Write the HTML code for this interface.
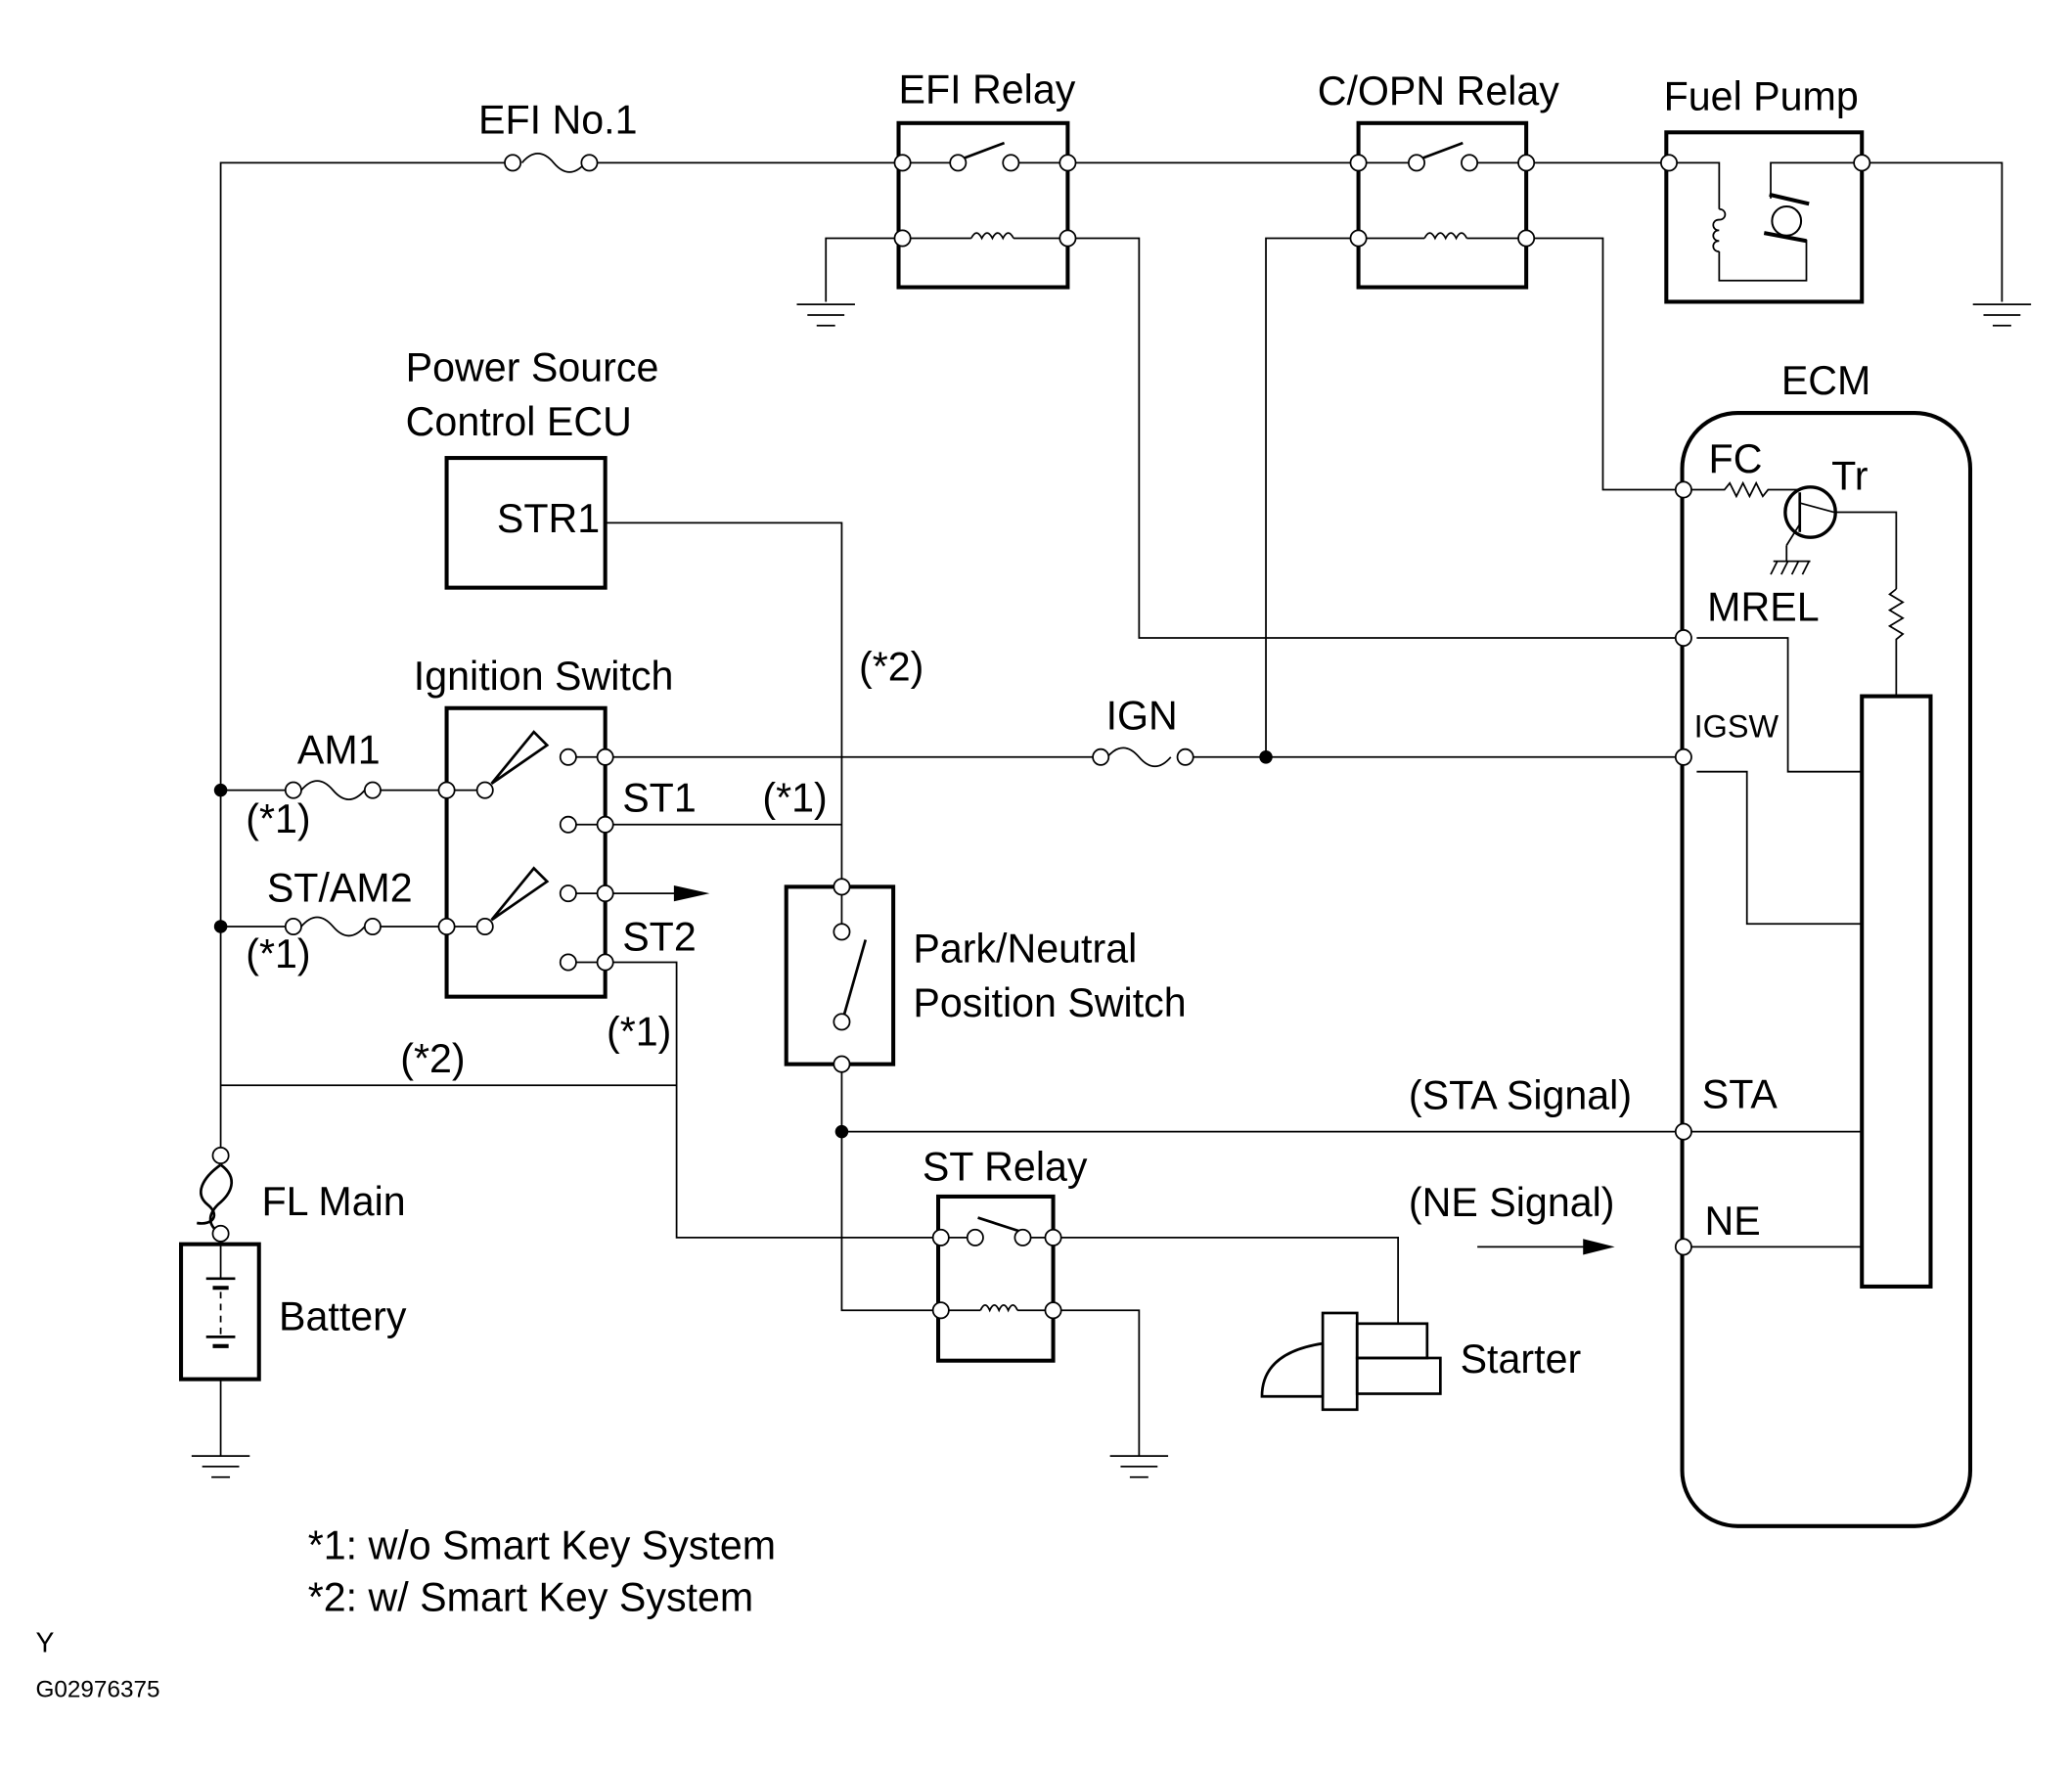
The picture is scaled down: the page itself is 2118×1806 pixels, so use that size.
<!DOCTYPE html>
<html><head><meta charset="utf-8"><style>
html,body{margin:0;padding:0;background:#fff;}
svg{display:block}
text{font-family:"Liberation Sans",sans-serif;fill:#000}
</style></head><body>
<svg width="2118" height="1806" viewBox="0 0 1568 1335" preserveAspectRatio="none" xmlns="http://www.w3.org/2000/svg">
<defs>
<g id="gnd"><line x1="-22" y1="0" x2="22" y2="0"/><line x1="-14" y1="8" x2="14" y2="8"/><line x1="-7" y1="16" x2="7" y2="16"/></g>
</defs>
<g fill="none" stroke="#000" stroke-width="1.3">
<polyline points="167,873 167,123 388,123"/>
<path d="M395,123 q12,-14 24,0 q12,14 24,0"/>
<line x1="446" y1="123" x2="683" y2="123"/>
<line x1="808" y1="123" x2="1028" y2="123"/>
<line x1="1155" y1="123" x2="1263" y2="123"/>
<polyline points="1409,123 1515,123 1515,228"/>
<use href="#gnd" x="1515" y="230"/>
<rect x="680" y="93" width="128" height="124" stroke-width="3"/>
<line x1="683" y1="123" x2="725" y2="123"/><line x1="765" y1="123" x2="808" y2="123"/>
<line x1="728" y1="120" x2="760" y2="108" stroke-width="2"/>
<line x1="683" y1="180" x2="735" y2="180"/><line x1="767" y1="180" x2="808" y2="180"/>
<path d="M735,180 q4,-8 8,0 q4,-8 8,0 q4,-8 8,0 q4,-8 8,0"/>
<polyline points="683,180 625,180 625,228"/>
<use href="#gnd" x="625" y="230"/>
<polyline points="808,180 862,180 862,482 1274,482"/>
<rect x="1028" y="93" width="127" height="124" stroke-width="3"/>
<line x1="1028" y1="123" x2="1072" y2="123"/><line x1="1112" y1="123" x2="1155" y2="123"/>
<line x1="1075" y1="120" x2="1107" y2="108" stroke-width="2"/>
<line x1="1028" y1="180" x2="1078" y2="180"/><line x1="1110" y1="180" x2="1155" y2="180"/>
<path d="M1078,180 q4,-8 8,0 q4,-8 8,0 q4,-8 8,0 q4,-8 8,0"/>
<polyline points="1028,180 958,180 958,572"/>
<polyline points="1155,180 1213,180 1213,370 1274,370"/>
<rect x="1261" y="100" width="148" height="128" stroke-width="3"/>
<polyline points="1263,123 1301,123 1301,158"/>
<polyline points="1301,190 1301,212 1367,212 1367,181"/>
<polyline points="1340,150 1340,123 1409,123"/>
<path d="M1301,158 c6,0 6,8 0,8 c-6,0 -6,8 0,8 c-6,0 -6,8 0,8 c-6,0 -6,8 0,8"/>
<circle cx="1352" cy="167" r="11" stroke-width="1.5"/>
<line x1="1339" y1="147" x2="1369" y2="154" stroke-width="3"/>
<line x1="1335" y1="176" x2="1367" y2="182" stroke-width="3"/>
<rect x="1273" y="312" width="218" height="841" rx="42" stroke-width="3"/>
<rect x="1409" y="526" width="52" height="446" stroke-width="3"/>
<path d="M1274,370 L1305,370 l4,-5 l5,10 l5,-10 l5,10 l5,-10 l5,10 l4,-5 L1360,370"/>
<circle cx="1370" cy="387" r="19" stroke-width="2.5"/>
<line x1="1362" y1="372" x2="1362" y2="402" stroke-width="2"/>
<line x1="1362" y1="380" x2="1388" y2="387"/>
<line x1="1362" y1="396" x2="1352" y2="412"/>
<line x1="1352" y1="412" x2="1352" y2="424"/>
<line x1="1342" y1="424" x2="1370" y2="424"/><line x1="1345" y1="424" x2="1340" y2="434"/><line x1="1353" y1="424" x2="1348" y2="434"/><line x1="1361" y1="424" x2="1356" y2="434"/><line x1="1369" y1="424" x2="1364" y2="434"/>
<polyline points="1388,387 1435,387 1435,445"/>
<path d="M1435,445 l-5,4 l10,6 l-10,6 l10,6 l-10,6 l10,6 l-5,4 L1435,526"/>
<polyline points="1284,482 1353,482 1353,583 1409,583"/>
<polyline points="1284,583 1322,583 1322,698 1409,698"/>
<line x1="458" y1="572" x2="833" y2="572"/>
<path d="M838,572 q12,-14 24,0 q12,14 24,0"/>
<line x1="897" y1="572" x2="1274" y2="572"/>
<line x1="637" y1="855" x2="1409" y2="855"/>
<line x1="1118" y1="942" x2="1200" y2="942"/>
<line x1="1274" y1="942" x2="1409" y2="942"/>
<rect x="338" y="535" width="120" height="218" stroke-width="3"/>
<line x1="167" y1="597" x2="222" y2="597"/>
<path d="M228,597 q12,-14 24,0 q12,14 24,0"/>
<line x1="282" y1="597" x2="338" y2="597"/>
<line x1="167" y1="700" x2="222" y2="700"/>
<path d="M228,700 q12,-14 24,0 q12,14 24,0"/>
<line x1="282" y1="700" x2="338" y2="700"/>
<line x1="338" y1="597" x2="361" y2="597"/><line x1="338" y1="700" x2="361" y2="700"/>
<polygon points="372,592 404,553 414,563" stroke-width="2"/>
<polygon points="372,695 404,656 414,666" stroke-width="2"/>
<line x1="430" y1="572" x2="458" y2="572"/><line x1="430" y1="623" x2="458" y2="623"/>
<line x1="430" y1="675" x2="458" y2="675"/><line x1="430" y1="727" x2="458" y2="727"/>
<line x1="458" y1="623" x2="637" y2="623"/>
<line x1="458" y1="675" x2="515" y2="675"/>
<polyline points="458,727 512,727 512,935 712,935"/>
<line x1="167" y1="820" x2="512" y2="820"/>
<rect x="338" y="346" width="120" height="98" stroke-width="3"/>
<polyline points="458,395 637,395 637,670"/>
<rect x="595" y="670" width="81" height="134" stroke-width="3"/>
<line x1="637" y1="704" x2="637" y2="670"/>
<line x1="639" y1="766" x2="655" y2="710" stroke-width="2"/>
<polyline points="637,804 637,990 712,990"/>
<rect x="710" y="904" width="87" height="124" stroke-width="3"/>
<line x1="712" y1="935" x2="738" y2="935"/><line x1="774" y1="935" x2="797" y2="935"/>
<line x1="740" y1="920" x2="771" y2="930" stroke-width="2"/>
<line x1="712" y1="990" x2="742" y2="990"/><line x1="770" y1="990" x2="797" y2="990"/>
<path d="M742,990 q3.5,-8 7,0 q3.5,-8 7,0 q3.5,-8 7,0 q3.5,-8 7,0"/>
<polyline points="797,935 1058,935 1058,1000"/>
<polyline points="797,990 862,990 862,1100"/>
<use href="#gnd" x="862" y="1100"/>
<path d="M1001,1015 L1001,1055 L955,1055 Q955,1022 1001,1015" stroke-width="2"/>
<rect x="1001" y="992" width="26" height="73" stroke-width="2"/>
<rect x="1027" y="1000" width="53" height="26" stroke-width="2"/>
<rect x="1027" y="1026" width="63" height="27" stroke-width="2"/>
<path d="M167,880 c-14,10 -20,22 -10,30 c10,8 4,16 -8,14" stroke-width="2"/>
<path d="M167,880 c14,10 8,22 -2,30 c-8,8 -8,16 2,22" stroke-width="2"/>
<rect x="137" y="940" width="59" height="102" stroke-width="3"/>
<line x1="167" y1="932" x2="167" y2="966"/>
<line x1="156" y1="966" x2="178" y2="966" stroke-width="2"/><line x1="161" y1="973" x2="173" y2="973" stroke-width="3"/>
<line x1="167" y1="976" x2="167" y2="1008" stroke-dasharray="5,4"/>
<line x1="156" y1="1010" x2="178" y2="1010" stroke-width="2"/><line x1="161" y1="1017" x2="173" y2="1017" stroke-width="3"/>
<line x1="167" y1="1042" x2="167" y2="1100"/>
<use href="#gnd" x="167" y="1100"/>
</g>
<polygon points="510,669 537,675 510,681" fill="#000"/>
<polygon points="1198,936 1222,942 1198,948" fill="#000"/>
<g fill="#000"><circle cx="167" cy="597" r="5"/><circle cx="167" cy="700" r="5"/><circle cx="958" cy="572" r="5"/><circle cx="637" cy="855" r="5"/></g>
<g fill="#fff" stroke="#000" stroke-width="1.3">
<circle cx="388" cy="123" r="6"/><circle cx="446" cy="123" r="6"/>
<circle cx="683" cy="123" r="6"/><circle cx="808" cy="123" r="6"/><circle cx="725" cy="123" r="6"/><circle cx="765" cy="123" r="6"/>
<circle cx="683" cy="180" r="6"/><circle cx="808" cy="180" r="6"/>
<circle cx="1028" cy="123" r="6"/><circle cx="1155" cy="123" r="6"/><circle cx="1072" cy="123" r="6"/><circle cx="1112" cy="123" r="6"/>
<circle cx="1028" cy="180" r="6"/><circle cx="1155" cy="180" r="6"/>
<circle cx="1263" cy="123" r="6"/><circle cx="1409" cy="123" r="6"/>
<circle cx="1274" cy="370" r="6"/><circle cx="1274" cy="482" r="6"/><circle cx="1274" cy="572" r="6"/><circle cx="1274" cy="855" r="6"/><circle cx="1274" cy="942" r="6"/>
<circle cx="833" cy="572" r="6"/><circle cx="897" cy="572" r="6"/>
<circle cx="222" cy="597" r="6"/><circle cx="282" cy="597" r="6"/><circle cx="222" cy="700" r="6"/><circle cx="282" cy="700" r="6"/>
<circle cx="338" cy="597" r="6"/><circle cx="338" cy="700" r="6"/><circle cx="367" cy="597" r="6"/><circle cx="367" cy="700" r="6"/>
<circle cx="430" cy="572" r="6"/><circle cx="458" cy="572" r="6"/><circle cx="430" cy="623" r="6"/><circle cx="458" cy="623" r="6"/>
<circle cx="430" cy="675" r="6"/><circle cx="458" cy="675" r="6"/><circle cx="430" cy="727" r="6"/><circle cx="458" cy="727" r="6"/>
<circle cx="637" cy="670" r="6"/><circle cx="637" cy="704" r="6"/><circle cx="637" cy="772" r="6"/><circle cx="637" cy="804" r="6"/>
<circle cx="712" cy="935" r="6"/><circle cx="797" cy="935" r="6"/><circle cx="738" cy="935" r="6"/><circle cx="774" cy="935" r="6"/>
<circle cx="712" cy="990" r="6"/><circle cx="797" cy="990" r="6"/>
<circle cx="167" cy="873" r="6"/><circle cx="167" cy="932" r="6"/>
</g>
<g font-size="30.5">
<text x="362" y="101">EFI No.1</text>
<text x="680" y="78">EFI Relay</text>
<text x="997" y="79">C/OPN Relay</text>
<text x="1259" y="83">Fuel Pump</text>
<text x="307" y="288">Power Source</text>
<text x="307" y="329">Control ECU</text>
<text x="376" y="402">STR1</text>
<text x="1348" y="298">ECM</text>
<text x="1293" y="357">FC</text>
<text x="1386" y="370">Tr</text>
<text x="1292" y="469">MREL</text>
<text x="1282" y="557" font-size="24">IGSW</text>
<text x="650" y="514">(*2)</text>
<text x="313" y="521">Ignition Switch</text>
<text x="837" y="551">IGN</text>
<text x="225" y="577">AM1</text>
<text x="186" y="629">(*1)</text>
<text x="471" y="613">ST1</text>
<text x="577" y="613">(*1)</text>
<text x="202" y="681">ST/AM2</text>
<text x="186" y="731">(*1)</text>
<text x="471" y="718">ST2</text>
<text x="691" y="727">Park/Neutral</text>
<text x="691" y="768">Position Switch</text>
<text x="459" y="790">(*1)</text>
<text x="303" y="810">(*2)</text>
<text x="1066" y="838">(STA Signal)</text>
<text x="1288" y="837">STA</text>
<text x="698" y="892">ST Relay</text>
<text x="1066" y="919">(NE Signal)</text>
<text x="1290" y="933">NE</text>
<text x="198" y="918">FL Main</text>
<text x="211" y="1005">Battery</text>
<text x="1105" y="1037">Starter</text>
<text x="233" y="1178">*1: w/o Smart Key System</text>
<text x="233" y="1217">*2: w/ Smart Key System</text>
<text x="27" y="1248" font-size="21">Y</text>
<text x="27" y="1282" font-size="18">G02976375</text>
</g>
</svg>
</body></html>
